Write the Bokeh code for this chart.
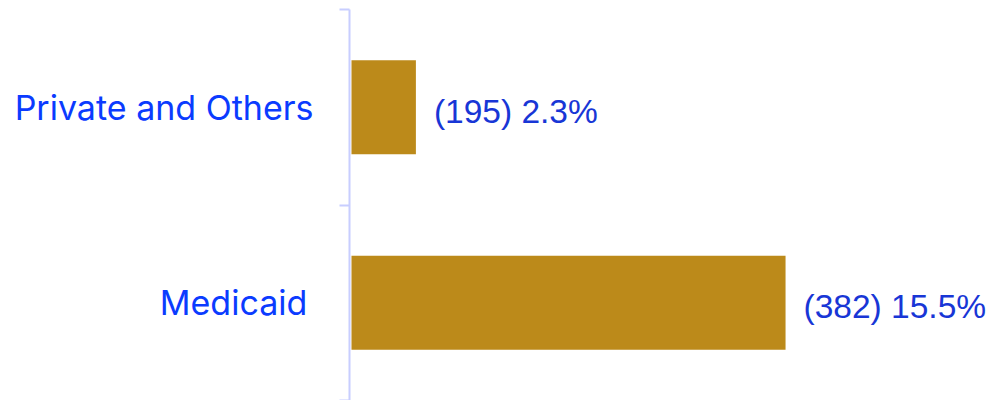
from bokeh.plotting import figure
from bokeh.models import Range1d, FixedTicker, ColumnDataSource
from bokeh.core.properties import value
from bokeh.embed import file_html
from bokeh.resources import INLINE

categories = ["Medicaid\u2009", "Private and Others"]
percents = [15.5, 2.3]
counts = [382, 195]
labels = [f"({c}) {p}%" for c, p in zip(counts, percents)]

ypos = [i + 0.5 for i in range(len(categories))]
src = ColumnDataSource(dict(y=ypos, right=percents, label=labels))

p = figure(width=999, height=400, output_backend="svg", toolbar_location=None,
           x_range=Range1d(-0.071, 23.14), y_range=Range1d(0, 2),
           min_border_left=349, min_border_right=0, min_border_top=9, min_border_bottom=0)
p.outline_line_color = None
p.grid.visible = False
p.xaxis.visible = False

p.hbar(y="y", left=0, right="right", height=0.48, source=src,
       fill_color="#BC8A1A", line_color=None)
p.text(x="right", y="y", text="label", source=src, x_offset=18, y_offset=4,
       text_baseline="middle", text_align="left", text_font=value("Liberation Sans"),
       text_font_size="33.5px", text_color="#1836d6")

ax = p.yaxis[0]
ax.ticker = FixedTicker(ticks=ypos, minor_ticks=[0, 1, 2])
ax.major_label_overrides = {y: c for y, c in zip(ypos, categories)}
ax.axis_line_color = "#c8ceff"
ax.axis_line_width = 2
ax.major_tick_line_color = None
ax.major_tick_out = 0
ax.major_tick_in = 0
ax.minor_tick_line_color = "#c8ceff"
ax.minor_tick_line_width = 2
ax.minor_tick_out = 10
ax.minor_tick_in = 0
ax.major_label_standoff = 26
ax.major_label_text_font = "Inter"
ax.major_label_text_font_size = "34px"
ax.major_label_text_color = "#0b3bff"

open("out.html", "w").write(file_html(p, INLINE))
